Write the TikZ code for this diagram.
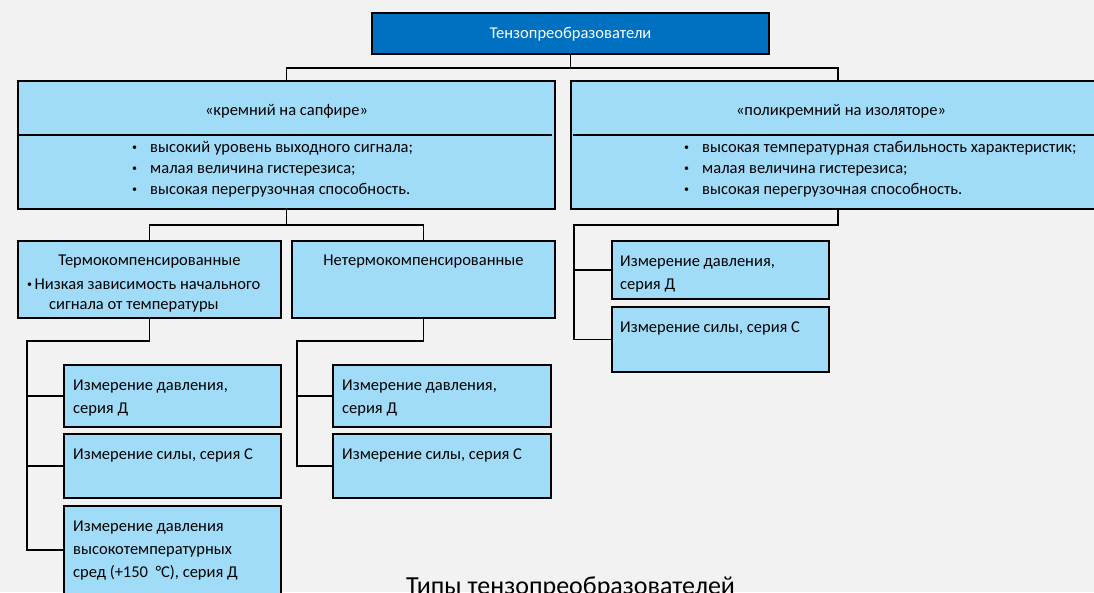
\documentclass[tikz,border=0pt]{standalone}
\usepackage{fontspec}
\setmainfont{Carlito}
\definecolor{bg}{HTML}{F2F2F2}
\definecolor{boxfill}{HTML}{A0DCF8}
\definecolor{topfill}{HTML}{0070C0}
\newcommand\smallbul{\raisebox{2pt}{\fontsize{10}{10}\selectfont\textbullet}}
\newcommand\bulitem{\makebox[19pt][l]{\hspace{1pt}\smallbul}}
\tikzset{
  box/.style={draw=black, line width=1.5pt, fill=boxfill, anchor=north west, inner sep=0pt, outer sep=0pt},
  topbox/.style={box, fill=topfill},
  txt/.style={font=\fontsize{16.5}{23}\selectfont, inner sep=0pt, anchor=base west, align=left},
  ctxt/.style={txt, anchor=base},
  conn/.style={draw=black, line width=1.4pt},
  divider/.style={draw=black, line width=1.4pt},
}
\begin{document}
\begin{tikzpicture}[x=1pt,y=-1pt]
\useasboundingbox (0,0) rectangle (1094,592);
\clip (0,0) rectangle (1094,592);
\fill[bg] (0,0) rectangle (1094,592);

% boxes
\node[topbox, minimum width=397pt, minimum height=41pt] (top) at (372,13) {};
\node[box, minimum width=537pt, minimum height=128pt] (L) at (18,81) {};
\node[box, minimum width=534pt, minimum height=128pt] (R) at (571,81) {};
\node[box, minimum width=263pt, minimum height=77pt] (T) at (18,241) {};
\node[box, minimum width=263pt, minimum height=77pt] (N) at (292,241) {};
\node[box, minimum width=217pt, minimum height=62pt] (K1) at (64,365) {};
\node[box, minimum width=217pt, minimum height=64pt] (K2) at (64,434) {};
\node[box, minimum width=217pt, minimum height=88pt] (K3) at (64,506) {};
\node[box, minimum width=218pt, minimum height=62pt] (NK1) at (333,365) {};
\node[box, minimum width=218pt, minimum height=64pt] (NK2) at (333,434) {};
\node[box, minimum width=217pt, minimum height=58pt] (RK1) at (612,241) {};
\node[box, minimum width=217pt, minimum height=65pt] (RK2) at (612,307) {};

% dividers
\draw[divider] ([yshift=-54pt]L.north west) -- ([yshift=-54pt,xshift=-3pt]L.north east);
\draw[divider] ([yshift=-54pt,xshift=2pt]R.north west) -- ([yshift=-54pt]R.north east);

% connectors
\coordinate (tj) at (570.5,68);
\draw[conn] (top.south) -- (tj) -| (L.north);
\draw[conn] (tj) -| (R.north);
\coordinate (lj) at (286.5,225);
\draw[conn] (L.south) -- (lj) -| (T.north);
\draw[conn] (lj) -| (N.north);
\coordinate (tl) at (27,341);
\draw[conn] (T.south) |- (tl) |- (K1.west);
\draw[conn] (tl) |- (K2.west);
\draw[conn] (tl) |- (K3.west);
\coordinate (nl) at (297,341);
\draw[conn] (N.south) |- (nl) |- (NK1.west);
\draw[conn] (nl) |- (NK2.west);
\coordinate (rl) at (574,225);
\draw[conn] (R.south) |- (rl) |- (RK1.west);
\draw[conn] (rl) |- (RK2.west);

% texts (multi-line nodes are placed by the baseline of their last line)
\node[ctxt, text=white] (ttop) at (570.5,38) {Тензопреобразователи};
\node[ctxt] (tL) at (286.5,115) {«кремний на сапфире»};
\node[ctxt] (tR) at (841,115) {«поликремний на изоляторе»};
\node[txt] (bL) at (131,194) {\bulitem высокий уровень выходного сигнала;\\[-2pt]
\bulitem малая величина гистерезиса;\\[-2pt]
\bulitem высокая перегрузочная способность.};
\node[txt] (bR) at (683,194) {\bulitem высокая температурная стабильность характеристик;\\[-2pt]
\bulitem малая величина гистерезиса;\\[-2pt]
\bulitem высокая перегрузочная способность.};
\node[ctxt] (tT) at (149.5,265) {Термокомпенсированные};
\node[txt] (bT) at (27,309) {\smallbul\hspace{2.5pt}Низкая зависимость начального\\[-3pt]\hspace{22pt}сигнала от температуры};
\node[ctxt] (tN) at (423.5,265) {Нетермокомпенсированные};
\node[txt] (tK1) at (73,413) {Измерение давления,\\серия Д};
\node[txt] (tK2) at (73,459) {Измерение силы, серия С};
\node[txt] (tK3) at (73,577) {Измерение давления\\высокотемпературных\\сред (+150~~°C), серия Д};
\node[txt] (tNK1) at (342,413) {Измерение давления,\\серия Д};
\node[txt] (tNK2) at (342,459) {Измерение силы, серия С};
\node[txt] (tRK1) at (620,289) {Измерение давления,\\серия Д};
\node[txt] (tRK2) at (620,332) {Измерение силы, серия С};

\node[ctxt, font=\fontsize{26}{30}\selectfont] (cap) at (570.5,594) {Типы тензопреобразователей};
\end{tikzpicture}
\end{document}
